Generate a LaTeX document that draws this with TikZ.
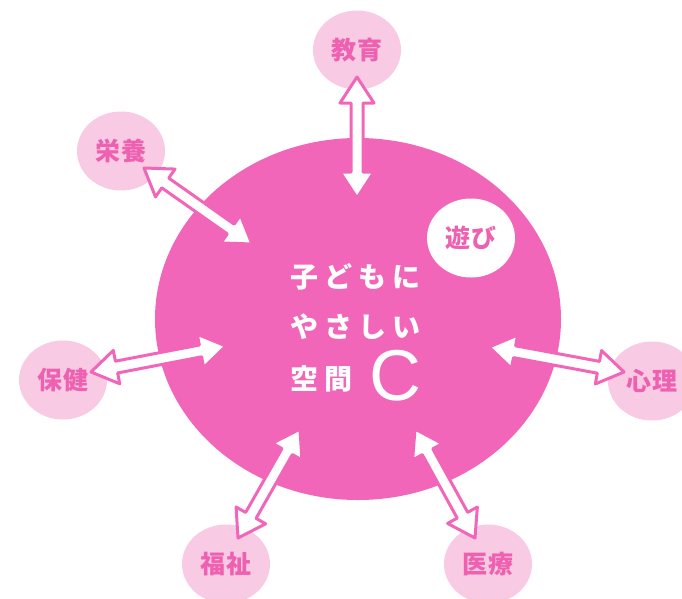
\documentclass[tikz,border=0pt]{standalone}
\usepackage{fontspec}
\newfontfamily\jp{Noto Sans CJK JP}
\newfontfamily\lat{Liberation Sans}
\usetikzlibrary{calc,shapes.geometric}
\definecolor{bigpink}{RGB}{242,102,186}
\definecolor{lightpink}{RGB}{248,202,228}
\definecolor{labelpink}{RGB}{238,96,176}
\newcommand\ls{\kern6pt}
\newcommand\lt{\kern1pt}
\tikzset{
  outer/.style={ellipse, fill=lightpink, minimum width=88pt, minimum height=79pt, inner sep=0pt,
    font=\jp\bfseries\fontsize{25}{25}\selectfont, text=labelpink},
  arrowsty/.style={fill=white, draw=bigpink, line width=3pt, line join=round},
  maintext/.style={anchor=west, inner sep=0pt, text=white, font=\jp\bfseries\fontsize{28}{28}\selectfont},
}
\newcommand\dbarrow[2]{\path[arrowsty] let \p1=(#1), \p2=(#2),
  \n1={atan2(\y2-\y1,\x2-\x1)}, \n2={veclen(\x2-\x1,\y2-\y1)} in
  [shift={(\x1,\y1)}, rotate=\n1]
  (0,0) -- (26,17) -- (26,6) -- (\n2-26,6) -- (\n2-26,17) -- (\n2,0)
  -- (\n2-26,-17) -- (\n2-26,-6) -- (26,-6) -- (26,-17) -- cycle;}
\begin{document}
\begin{tikzpicture}[x=1pt,y=-1pt]
\useasboundingbox (0,0) rectangle (682,598);
% central space
\node[ellipse, fill=bigpink, minimum width=406pt, minimum height=362pt, inner sep=0pt] (center) at (358,319) {};
% outer fields
\node[outer] (kyoiku) at (357,50) {教\lt 育};
\node[outer] (eiyo) at (121,151) {栄\lt 養};
\node[outer] (hoken) at (63,380) {保\lt 健};
\node[outer] (shinri) at (652,381) {心\lt 理};
\node[outer] (fukushi) at (226,564) {福\lt 祉};
\node[outer] (iryo) at (488,564) {医\lt 療};
\node[outer, fill=white] (asobi) at (471,238) {遊\lt び};
% arrow end points
\coordinate (k1) at (357,77);  \coordinate (k2) at (357,198);
\coordinate (e1) at (144,168); \coordinate (e2) at (252,244);
\coordinate (h1) at (91,372);  \coordinate (h2) at (226,346);
\coordinate (s1) at (489,347); \coordinate (s2) at (624,372);
\coordinate (f1) at (300,429); \coordinate (f2) at (238,538);
\coordinate (i1) at (415,429); \coordinate (i2) at (475,538);
\dbarrow{k1}{k2}
\dbarrow{e1}{e2}
\dbarrow{h1}{h2}
\dbarrow{s1}{s2}
\dbarrow{f1}{f2}
\dbarrow{i1}{i2}
% main text
\node[maintext] (line1) at (290,277) {子\ls ど\ls も\ls に};
\node[maintext] (line2) at (290,327) {や\ls さ\ls し\ls い};
\node[maintext] (line3) at (290,379) {空\ls 間};
\node[anchor=west, inner sep=0pt, text=white, font=\lat\fontsize{72}{72}\selectfont] (bigc) at (369,376) {C};
\end{tikzpicture}
\end{document}
